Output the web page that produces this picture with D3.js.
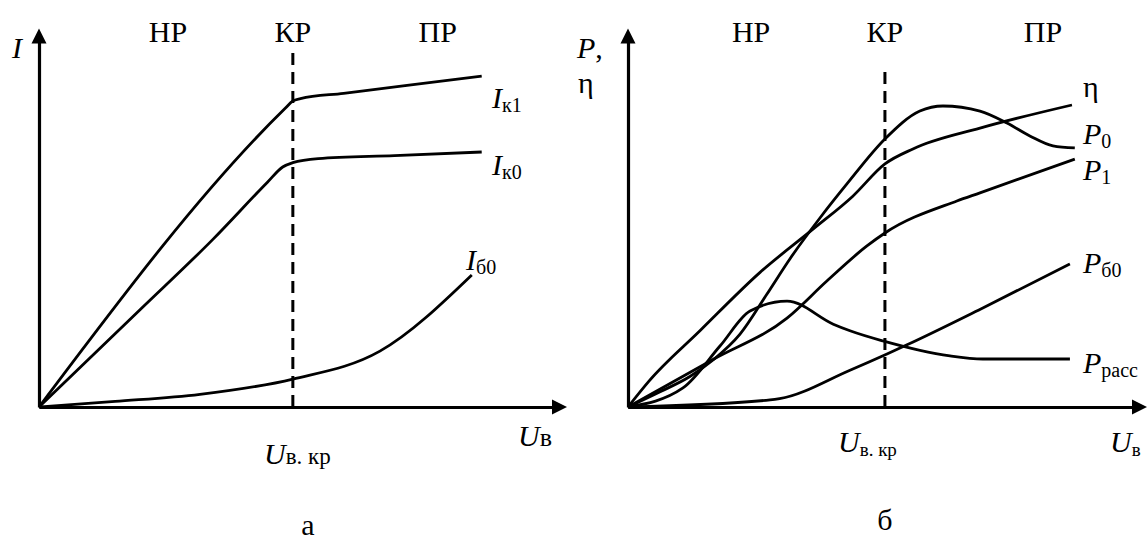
<!DOCTYPE html>
<html><head><meta charset="utf-8">
<script src="https://cdn.jsdelivr.net/npm/d3@7"></script>
<style>
body{margin:0;background:#fff;}
</style></head><body>
<svg id="c" width="1147" height="544" font-family="Liberation Serif, Times New Roman, Tinos, DejaVu Serif, serif"></svg>
<script>
// ---------- data (relative units: U / U_в.кр) ----------
const regions = ["НР", "КР", "ПР"];
const uCrit = 1.0;
// panel а
const Ik1 = [[0,0],[0.97,1.176],[1.0,1.205],[1.03,1.214],[1.2,1.235],[1.45,1.266],[1.744,1.303]];
const Ik0 = [[0,0],[0.4,0.385],[0.685,0.66],[0.9,0.885],[0.96,0.945],[1.0,0.962],[1.1,0.978],[1.4,0.99],[1.744,1.004]];
const Ib0 = [[0,0],[0.3,0.022],[0.634,0.05],[1.0,0.11],[1.343,0.22],[1.705,0.52]];
// panel б
const eta  = [[0,0],[0.08,0.1],[0.28,0.3],[0.514,0.53],[0.72,0.7],[0.875,0.83],[1.0,0.957],[1.109,1.016],[1.37,1.098],[1.728,1.189]];
const P0   = [[0,0],[0.125,0.06],[0.241,0.12],[0.331,0.185],[0.436,0.287],[0.541,0.445],[0.63,0.583],[0.747,0.744],[0.852,0.878],[1.0,1.055],[1.136,1.165],[1.226,1.185],[1.37,1.165],[1.475,1.118],[1.564,1.067],[1.654,1.028],[1.739,1.02]];
const P1   = [[0,0],[0.331,0.187],[0.619,0.35],[0.774,0.496],[0.93,0.634],[1.0,0.685],[1.28,0.811],[1.37,0.843],[1.739,0.976]];
const Prass= [[0,0],[0.214,0.075],[0.358,0.24],[0.475,0.378],[0.619,0.417],[0.799,0.326],[0.864,0.30],[0.992,0.26],[1.253,0.201],[1.381,0.189],[1.72,0.189]];
const Pb0  = [[0,0],[0.553,0.028],[0.59,0.033],[0.864,0.145],[1.008,0.209],[1.086,0.245],[1.381,0.39],[1.72,0.563]];

const FONT = "Liberation Serif, Times New Roman, Tinos, DejaVu Serif, serif";
const svg = d3.select("#c");

function panel(cfg){
  const x = d3.scaleLinear().domain([0, cfg.xMax]).range([cfg.x0, cfg.x1]);
  const y = d3.scaleLinear().domain([0, 1.5]).range([407, 26]);
  const g = svg.append("g");
  const AL = 15, AW = 7.5;
  const xa = x.copy().range([cfg.x0, cfg.x1 - AL + 2]);
  const ya = y.copy().domain([0, cfg.yTop]).range([y(0), y(cfg.yTop) + AL - 2]);
  const gx = g.append("g").attr("transform", `translate(0,${y(0)})`)
    .call(d3.axisBottom(xa).tickValues([]).tickSizeOuter(0));
  const gy = g.append("g").attr("transform", `translate(${x(0)},0)`)
    .call(d3.axisLeft(ya).tickValues([]).tickSizeOuter(0));
  [gx, gy].forEach(a => a.select(".domain").attr("stroke", "#000").attr("stroke-width", 3.2));
  const tx = cfg.x1, ty = y(0);
  g.append("path").attr("d", `M${tx},${ty} L${tx-AL},${ty-AW} L${tx-AL},${ty+AW} Z`).attr("fill", "#000");
  const ux = x(0), uy = y(cfg.yTop);
  g.append("path").attr("d", `M${ux},${uy} L${ux-AW},${uy+AL} L${ux+AW},${uy+AL} Z`).attr("fill", "#000");
  g.append("line").attr("x1", x(uCrit)).attr("x2", x(uCrit))
    .attr("y1", y(0)).attr("y2", y(cfg.dashTop))
    .attr("stroke", "#000").attr("stroke-width", 3).attr("stroke-dasharray", "12,7");
  const line = d3.line().x(d => x(d[0])).y(d => y(d[1])).curve(d3.curveMonotoneX);
  cfg.series.forEach(s => {
    g.append("path").attr("d", line(s)).attr("fill", "none")
      .attr("stroke", "#000").attr("stroke-width", 2.8).attr("stroke-linejoin", "round");
  });
  regions.forEach((r, i) => {
    g.append("text").attr("font-family", FONT).attr("x", x(cfg.regionU[i])).attr("y", 42)
      .attr("text-anchor", "middle").attr("font-size", 30).text(r);
  });
  return {x, y, g};
}

function label(g, xp, yp, main, sub, opts = {}){
  const t = g.append("text").attr("font-family", FONT).attr("x", xp).attr("y", yp).attr("font-size", opts.size || 30);
  t.append("tspan").attr("font-style", opts.upright ? "normal" : "italic").text(main);
  if (sub) t.append("tspan").attr("font-size", opts.subSize || 20).attr("dy", opts.dy == null ? 4 : opts.dy).text(sub);
  if (opts.anchor) t.attr("text-anchor", opts.anchor);
  return t;
}

// panel а
const A = panel({x0: 39, x1: 567, xMax: 2.08, yTop: 1.49, dashTop: 1.398,
  regionU: [0.508, 1.0, 1.571], series: [Ik1, Ik0, Ib0]});
label(A.g, 12, 58, "I");
label(A.g, 492, 108, "I", "к1");
label(A.g, 492, 175, "I", "к0");
label(A.g, 466, 270, "I", "б0");
label(A.g, 518, 446, "U", "в", {subSize: 26, dy: 0});
label(A.g, 264, 464, "U", "в. кр", {subSize: 23, dy: 0});
A.g.append("text").attr("font-family", FONT).attr("x", 308).attr("y", 535).attr("text-anchor", "middle").attr("font-size", 30).text("а");

// panel б
const B = panel({x0: 628, x1: 1147, xMax: 2.02, yTop: 1.49, dashTop: 1.331,
  regionU: [0.479, 1.0, 1.615], series: [eta, P0, P1, Prass, Pb0]});
label(B.g, 577, 58, "P", ",", {subSize: 30, dy: 0});
label(B.g, 578, 93, "η", null, {upright: true});
label(B.g, 1083, 97, "η", null, {upright: true});
label(B.g, 1083, 144, "P", "0");
label(B.g, 1083, 180, "P", "1");
label(B.g, 1083, 273, "P", "б0");
label(B.g, 1083, 373, "P", "расс");
label(B.g, 838, 452, "U", "в. кр", {subSize: 19, dy: 4});
label(B.g, 1110, 452, "U", "в", {subSize: 19, dy: 4});
B.g.append("text").attr("font-family", FONT).attr("x", 885).attr("y", 530).attr("text-anchor", "middle").attr("font-size", 30).text("б");
</script>
</body></html>
